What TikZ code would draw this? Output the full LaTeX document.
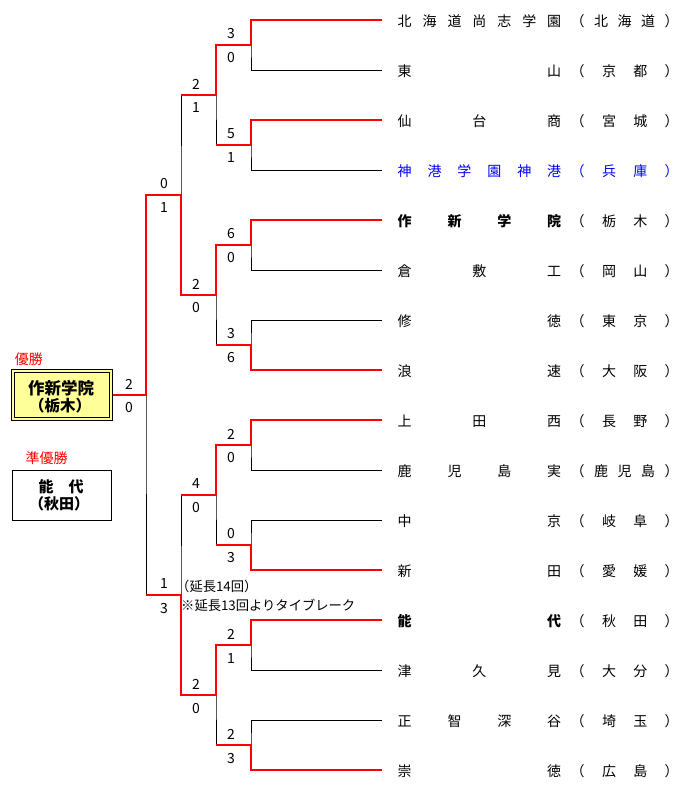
\documentclass[tikz,border=0pt]{standalone}
\usepackage{fontspec}
\setmainfont{Noto Sans CJK JP}
\definecolor{winred}{RGB}{255,0,0}
\definecolor{champfill}{RGB}{255,255,153}
\definecolor{teamblue}{RGB}{0,0,255}
\tikzset{
  lose/.style={draw=black, line width=0.9pt},
  win/.style={draw=winred, line width=2.6pt, line join=miter},
  team/.style={anchor=west, inner sep=0pt, font=\fontsize{14pt}{16pt}\selectfont},
  score/.style={inner sep=0pt, font=\fontsize{14pt}{16pt}\selectfont},
  note/.style={anchor=west, inner sep=0pt, font=\fontsize{13.3pt}{15pt}\selectfont},
  redlabel/.style={inner sep=0pt, text=winred, font=\fontsize{14pt}{16pt}\selectfont},
  boxtext/.style={inner sep=0pt, font=\bfseries\fontsize{15.5pt}{17pt}\selectfont},
}
\newcommand\tname[2]{\hspace*{15.5pt}\makebox[163.5pt]{#1}\hspace*{9.5pt}\makebox[108pt]{#2}}
\newcommand\hf{\hfill}
\begin{document}
\begin{tikzpicture}[x=1pt,y=-1pt]
\useasboundingbox (0,0) rectangle (685,796);
\fill[white] (0,0) rectangle (685,796);

% end points of team lines
\foreach \i in {0,...,15} { \coordinate (e\i) at (382,{20+50*\i}); }
% match points
\foreach \j in {0,...,7} { \coordinate (a\j) at (251,{45+100*\j}); }
\foreach \k in {0,...,3} { \coordinate (b\k) at (216,{95+200*\k}); }
\coordinate (c0) at (181,195);
\coordinate (c1) at (181,595);
\coordinate (f) at (146,395);

% boxes
\node[draw=black, double=champfill, double distance=2pt, line width=0.8pt, fill=champfill,
      minimum width=98.4pt, minimum height=48.4pt, inner sep=0pt, outer sep=1.8pt] (champ) at (62,395) {};
\node[draw=black, line width=0.9pt, fill=white, minimum width=99pt, minimum height=50pt, inner sep=0pt] (runner) at (61.5,495) {};

\node[boxtext, font=\bfseries\fontsize{16.5pt}{18pt}\selectfont] (champn) at (61,388) {作新学院};
\node[boxtext] (champp) at (60,406) {（栃木）};
\node[boxtext, font=\bfseries\fontsize{15pt}{17pt}\selectfont] (runn) at (61,487) {能　代};
\node[boxtext, font=\bfseries\fontsize{15pt}{17pt}\selectfont] (runp) at (59,504) {（秋田）};
\node[redlabel] (lab1) at (29,359) {優勝};
\node[redlabel] (lab2) at (46.5,458) {準優勝};

% teams
\node[team] (n0) at (382,21) {\tname{北\hf 海\hf 道\hf 尚\hf 志\hf 学\hf 園}{（\hf 北\hf 海\hf 道\hf ）}};
\node[team] (n1) at (382,71) {\tname{東\hf 山}{（\hf 京\hf 都\hf ）}};
\node[team] (n2) at (382,121) {\tname{仙\hf 台\hf 商}{（\hf 宮\hf 城\hf ）}};
\node[team, text=teamblue] (n3) at (382,171) {\tname{神\hf 港\hf 学\hf 園\hf 神\hf 港}{（\hf 兵\hf 庫\hf ）}};
\node[team] (n4) at (382,221) {\tname{\bfseries 作\hf 新\hf 学\hf 院}{（\hf 栃\hf 木\hf ）}};
\node[team] (n5) at (382,271) {\tname{倉\hf 敷\hf 工}{（\hf 岡\hf 山\hf ）}};
\node[team] (n6) at (382,321) {\tname{修\hf 徳}{（\hf 東\hf 京\hf ）}};
\node[team] (n7) at (382,371) {\tname{浪\hf 速}{（\hf 大\hf 阪\hf ）}};
\node[team] (n8) at (382,421) {\tname{上\hf 田\hf 西}{（\hf 長\hf 野\hf ）}};
\node[team] (n9) at (382,471) {\tname{鹿\hf 児\hf 島\hf 実}{（\hf 鹿\hf 児\hf 島\hf ）}};
\node[team] (n10) at (382,521) {\tname{中\hf 京}{（\hf 岐\hf 阜\hf ）}};
\node[team] (n11) at (382,571) {\tname{新\hf 田}{（\hf 愛\hf 媛\hf ）}};
\node[team] (n12) at (382,621) {\tname{\bfseries 能\hf 代}{（\hf 秋\hf 田\hf ）}};
\node[team] (n13) at (382,671) {\tname{津\hf 久\hf 見}{（\hf 大\hf 分\hf ）}};
\node[team] (n14) at (382,721) {\tname{正\hf 智\hf 深\hf 谷}{（\hf 埼\hf 玉\hf ）}};
\node[team] (n15) at (382,771) {\tname{崇\hf 徳}{（\hf 広\hf 島\hf ）}};

% black bracket
\foreach \j [evaluate=\j as \t using int(2*\j), evaluate=\j as \u using int(2*\j+1)] in {0,...,7} {
  \draw[lose] (e\t) -| (a\j) |- (e\u);
}
\foreach \k [evaluate=\k as \t using int(2*\k), evaluate=\k as \u using int(2*\k+1)] in {0,...,3} {
  \draw[lose] (a\t) -| (b\k) |- (a\u);
}
\draw[lose] (b0) -| (c0) |- (b1);
\draw[lose] (b2) -| (c1) |- (b3);
\draw[lose] (c0) -| (f) |- (c1);

% red winner paths
\draw[win] (e0) -| (a0) -| (b0) -- (b0 -| c0);
\draw[win] (e2) -| (a1) -- (a1 -| b0);
\draw[win] (e4) -| (a2) -| (b1) -| (c0) -| (f) -- (champ.east);
\draw[win] (e7) -| (a3) -- (a3 -| b1);
\draw[win] (e8) -| (a4) -| (b2) -- (b2 -| c1);
\draw[win] (e11) -| (a5) -- (a5 -| b2);
\draw[win] (e12) -| (a6) -| (b3) -| (c1) -- (c1 -| f);
\draw[win] (e15) -| (a7) -- (a7 -| b3);

% scores
\foreach \x/\y/\s [count=\n] in {
  231/34/3, 231/58/0, 231/134/5, 231/158/1, 231/234/6, 231/258/0, 231/334/3, 231/358/6,
  231/434/2, 231/458/0, 231/534/0, 231/558/3, 231/634/2, 231/658/1, 231/734/2, 231/758/3,
  196/84/2, 196/108/1, 196/284/2, 196/308/0, 196/484/4, 196/508/0, 196/684/2, 196/708/0,
  164/184/0, 164/208/1, 164/584/1, 164/608/3,
  129/384/2, 129/408/0} {
  \node[score] (sc\n) at (\x,\y) {\s};
}

% notes
\node[note] (ext) at (176,586) {（延長14回）};
\node[note] (tb) at (181,605) {※延長13回よりタイブレーク};
\end{tikzpicture}
\end{document}
